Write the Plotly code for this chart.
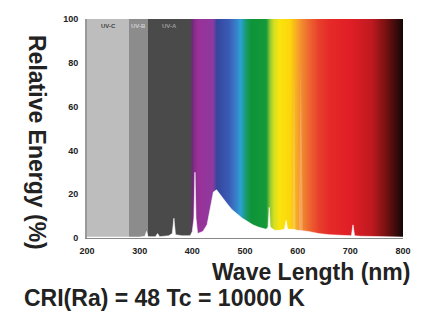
import numpy as np
import plotly.graph_objects as go

# ---- data ----
x_ticks = [200, 300, 400, 500, 600, 700, 800]
y_ticks = [0, 20, 40, 60, 80, 100]

# background colour stops (wavelength nm, colour)
bg_wavelengths = [200, 280, 280, 315, 315, 396, 400, 410, 440, 446, 470, 482, 492, 502, 512, 540, 548, 556, 566, 586, 596, 606, 620, 640, 660, 700, 740, 770, 800]
bg_colors = ["#bdbdbd", "#bdbdbd", "#8c8c8c", "#8c8c8c", "#4a4a4a", "#4a4a4a", "#6e2a78", "#9a3098", "#8c3aa0",
             "#34469c", "#3a5cb6", "#3a7cc8", "#2aa2d8", "#1a9a6a", "#0e9438", "#14983a", "#98c832", "#d8e020",
             "#fbe40c", "#fcd50c", "#f8b020", "#f29030", "#ee6a30", "#e8402c", "#e62a28", "#e01e26", "#c01a20",
             "#701010", "#140606"]

# spectral power distribution (relative energy %)
spd_wl = [200, 300, 310, 313, 316, 330, 334, 338, 355, 362, 365, 368, 380, 396, 400, 403, 405, 407, 410, 420,
          428, 434, 440, 446, 455, 465, 475, 485, 495, 505, 515, 525, 535, 540, 544, 546, 548, 556, 566, 575, 578, 581,
          590, 600, 620, 640, 660, 690, 702, 705, 708, 720, 760, 800]
spd_val = [0.4, 0.4, 0.8, 3, 0.6, 0.6, 2, 0.6, 1, 2, 9, 1.5, 1, 1, 3, 9, 30, 9, 2, 3,
           6, 14, 21, 22, 19, 16, 13, 11, 9, 7.5, 6, 5, 4.5, 4, 5, 14, 5, 3.5, 3.5, 4, 8, 4,
           4, 3.5, 3, 2, 1.5, 1, 1, 6, 1, 0.8, 0.5, 0.4]

# faint strong lines (blurred in the original)
line_wl = [590, 593, 596, 602, 606, 610]
line_val = [0, 78, 0, 0, 80, 0]

band_labels = ["UV-C", "UV-B", "UV-A"]
band_label_x = [240, 298, 357]
band_label_colors = ["#444444", "#cfcfcf", "#9a9a9a"]

# ---- figure ----
zmin, zmax = 200, 800
colorscale = [[(w - zmin) / (zmax - zmin), c] for w, c in zip(bg_wavelengths, bg_colors)]

edges = np.arange(200, 801, 1)
centers = (edges[:-1] + edges[1:]) / 2

fig = go.Figure()
fig.add_trace(go.Heatmap(
    x=edges, y=[0, 100], z=[centers], zmin=zmin, zmax=zmax,
    colorscale=colorscale, showscale=False, hoverinfo="skip"))

fig.add_trace(go.Scatter(
    x=line_wl, y=line_val, mode="lines", fill="tozeroy",
    fillcolor="rgba(255,255,255,0.2)", line=dict(width=0), hoverinfo="skip"))

fig.add_trace(go.Scatter(
    x=spd_wl, y=spd_val, mode="lines", fill="tozeroy",
    fillcolor="white", line=dict(color="white", width=0.6), hoverinfo="skip"))

tick_font = dict(family="Liberation Sans", size=9, color="#222222")
fig.update_xaxes(range=[200, 800], tickvals=x_ticks, ticktext=[f"<b>{v}</b>" for v in x_ticks],
                 tickfont=tick_font, showgrid=False, zeroline=False, ticks="",
                 showline=True, linecolor="#888888", linewidth=1, ticklabelstandoff=4)
fig.update_yaxes(range=[0, 100], tickvals=y_ticks, ticktext=[f"<b>{v}</b>" for v in y_ticks],
                 tickfont=tick_font, showgrid=False, zeroline=False, ticks="",
                 showline=True, linecolor="#999999", linewidth=2, ticklabelstandoff=5)

title_font = dict(family="Liberation Sans", size=23, color="#222222")
ann = [
    dict(text="<b>Relative Energy (%)</b>", textangle=90, xref="paper", yref="paper",
         x=-0.158, y=0.438, xanchor="center", yanchor="middle", showarrow=False, font=title_font),
    dict(text="<b>Wave Length (nm)</b>", xref="paper", yref="paper",
         x=1.028, y=-0.156, xanchor="right", yanchor="middle", showarrow=False, font=title_font),
    dict(text="<b>CRI(Ra) = 48 Tc = 10000 K</b>", xref="paper", yref="paper",
         x=-0.206, y=-0.272, xanchor="left", yanchor="middle", showarrow=False, font=title_font),
]
for lab, lx, lc in zip(band_labels, band_label_x, band_label_colors):
    ann.append(dict(text=f"<b>{lab}</b>", x=lx, y=97, xref="x", yref="y", showarrow=False,
                    font=dict(family="Liberation Sans", size=6, color=lc)))

# page has an 8px body margin, so the figure is sized 8px smaller than the window
fig.update_layout(
    width=422, height=317, margin=dict(l=79, r=27, t=6, b=87),
    paper_bgcolor="white", plot_bgcolor="white", showlegend=False,
    annotations=ann)

fig.write_html("out.html")
